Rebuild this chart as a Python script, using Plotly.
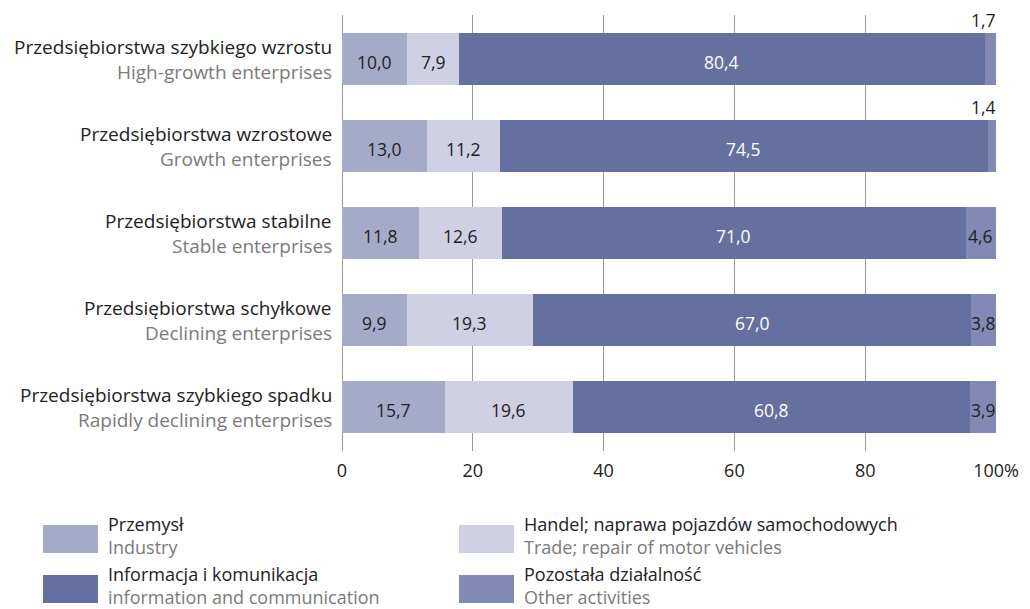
import plotly.graph_objects as go

# Enterprise groups (Polish name, English name), top to bottom
groups_pl = [
    "Przedsiębiorstwa szybkiego wzrostu",
    "Przedsiębiorstwa wzrostowe",
    "Przedsiębiorstwa stabilne",
    "Przedsiębiorstwa schyłkowe",
    "Przedsiębiorstwa szybkiego spadku",
]
groups_en = [
    "High-growth enterprises",
    "Growth enterprises",
    "Stable enterprises",
    "Declining enterprises",
    "Rapidly declining enterprises",
]

# Share of each sector (%)
industry = [10.0, 13.0, 11.8, 9.9, 15.7]
trade = [7.9, 11.2, 12.6, 19.3, 19.6]
info_comm = [80.4, 74.5, 71.0, 67.0, 60.8]
other = [1.7, 1.4, 4.6, 3.8, 3.9]

series_pl = ["Przemysł", "Handel; naprawa pojazdów samochodowych",
             "Informacja i komunikacja", "Pozostała działalność"]
series_en = ["Industry", "Trade; repair of motor vehicles",
             "information and communication", "Other activities"]
colors = ["#a6aac9", "#cfd0e3", "#6370a0", "#8289b5"]
label_colors = ["#222222", "#222222", "#ffffff", "#222222"]

tick_vals = [0, 20, 40, 60, 80, 100]
tick_text = ["0", "20", "40", "60", "80", "100%"]

FONT = "Open Sans"
CAT_SIZE = 19
LEG_SIZE = 18
TICK_SIZE = 18
VAL_SIZE = 17.5
all_series = [industry, trade, info_comm, other]

fig = go.Figure()
for name, vals, col in zip(series_pl, all_series, colors):
    fig.add_trace(go.Bar(
        y=groups_pl, x=vals, orientation="h", name=name,
        marker=dict(color=col, line=dict(width=0)),
        showlegend=False, hoverinfo="x+y",
    ))

annotations = []

# Segment value labels
for gi, g in enumerate(groups_pl):
    left = 0.0
    for si, vals in enumerate(all_series):
        v = vals[gi]
        txt = f"{v:.1f}".replace(".", ",")
        if si == 3 and v < 2:
            # too narrow: put the value above the bar end
            annotations.append(dict(
                x=100, y=g, xref="x", yref="y", text=txt, showarrow=False,
                xanchor="right", yanchor="middle", yshift=39, xshift=2,
                font=dict(family=FONT, size=VAL_SIZE, color="#222222")))
        else:
            annotations.append(dict(
                x=left + v / 2, y=g, xref="x", yref="y", text=txt, showarrow=False,
                xanchor="center", yanchor="middle", yshift=-3,
                font=dict(family=FONT, size=VAL_SIZE, color=label_colors[si])))
        left += v

# Category labels (two lines)
for g, en in zip(groups_pl, groups_en):
    annotations.append(dict(
        x=0, y=g, xref="x", yref="y", text=g, showarrow=False,
        xanchor="right", yanchor="middle", xshift=-8, yshift=12,
        font=dict(family=FONT, size=CAT_SIZE, color="#222222")))
    annotations.append(dict(
        x=0, y=g, xref="x", yref="y", text=en, showarrow=False,
        xanchor="right", yanchor="middle", xshift=-8, yshift=-13,
        font=dict(family=FONT, size=CAT_SIZE, color="#7a7a7a")))

# Legend built from swatches and two-line labels
shapes = []
legend_pos = [(43, 525), (459, 525), (43, 575), (459, 575)]
W, H = 1030, 609
for si, (px, py) in enumerate(legend_pos):
    shapes.append(dict(
        type="rect", xref="paper", yref="paper",
        x0=(px - 342) / 654, x1=(px + 55 - 342) / 654,
        y0=(451 - (py + 28)) / 436, y1=(451 - py) / 436,
        fillcolor=colors[si], line=dict(width=0)))
    annotations.append(dict(
        x=(px + 65 - 342) / 654, y=(451 - (py - 1)) / 436, xref="paper", yref="paper",
        text=series_pl[si], showarrow=False, xanchor="left", yanchor="middle",
        borderpad=0, borderwidth=0,
        font=dict(family=FONT, size=LEG_SIZE, color="#222222")))
    annotations.append(dict(
        x=(px + 65 - 342) / 654, y=(451 - (py + 22)) / 436, xref="paper", yref="paper",
        text=series_en[si], showarrow=False, xanchor="left", yanchor="middle",
        borderpad=0, borderwidth=0,
        font=dict(family=FONT, size=LEG_SIZE, color="#7a7a7a")))

fig.update_layout(
    width=W, height=H,
    barmode="stack", bargap=0.405,
    margin=dict(l=342, r=34, t=15, b=158),
    paper_bgcolor="white", plot_bgcolor="white",
    font=dict(family=FONT, size=16, color="#222222"),
    xaxis=dict(range=[0, 100], tickvals=tick_vals, ticktext=tick_text,
               showgrid=True, gridcolor="#9a9a9a", gridwidth=1,
               zeroline=True, zerolinecolor="#9a9a9a", zerolinewidth=1,
               showline=False, ticks="", ticklabelstandoff=7,
               tickfont=dict(family=FONT, size=TICK_SIZE, color="#222222")),
    yaxis=dict(categoryorder="array", categoryarray=groups_pl[::-1],
               showticklabels=False, showgrid=False, zeroline=False,
               range=[-0.5, 4.5]),
    annotations=annotations, shapes=shapes,
)

fig.write_html("out.html")
